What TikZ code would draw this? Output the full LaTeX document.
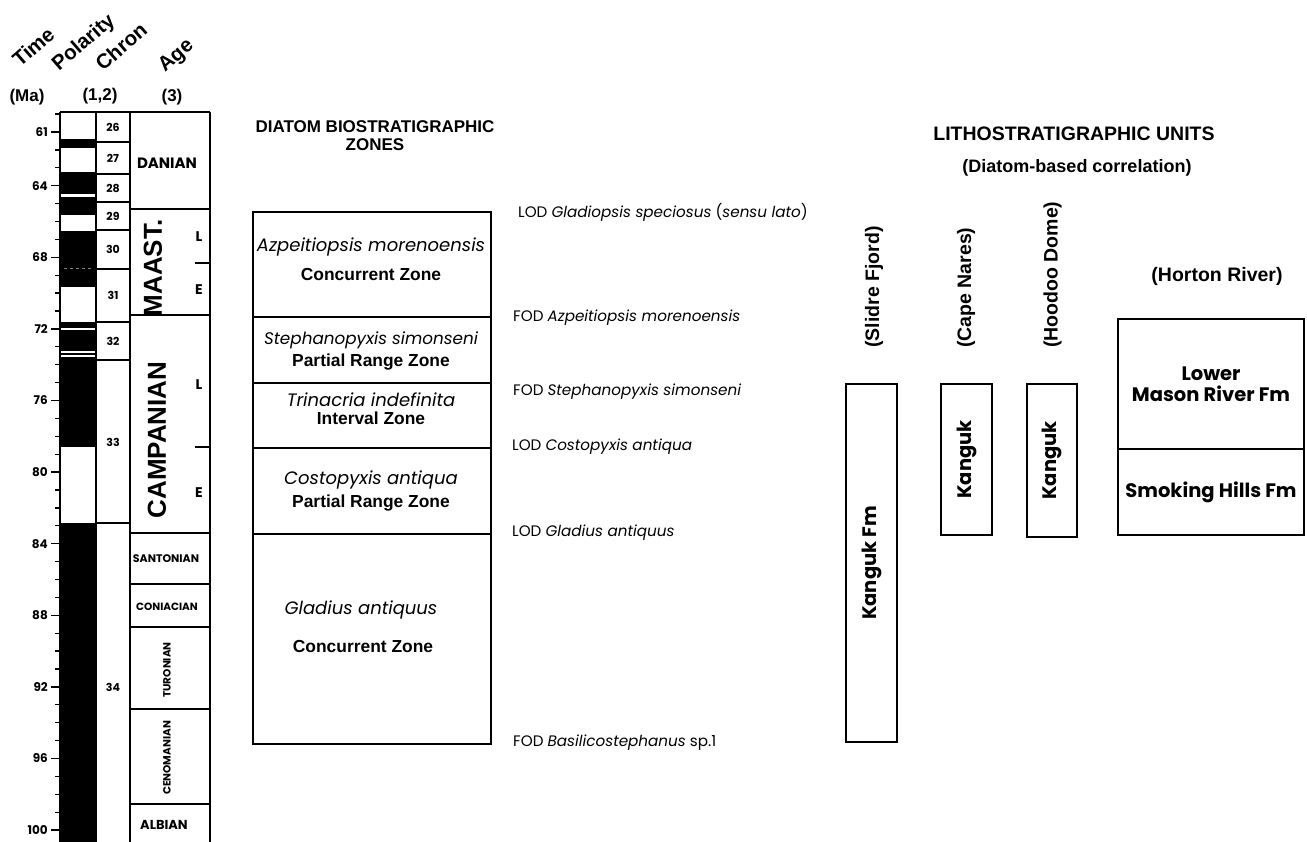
\documentclass[tikz,border=0pt]{standalone}
\usepackage{fontspec}
\setmainfont{Liberation Sans}
\newfontfamily\gothic{Poppins}
\usetikzlibrary{positioning}
\newcommand{\fsz}[1]{\fontsize{#1}{#1}\selectfont}
\tikzset{
    colHead/.style={font=\bfseries\fsz{20.5}, rotate=41, anchor=base west, inner sep=0pt},
    subHead/.style={font=\bfseries\fsz{17}, inner sep=0pt},
    tickNum/.style={font=\gothic\bfseries\fsz{12}, anchor=east, inner sep=0pt},
    chronNum/.style={font=\gothic\bfseries\fsz{11}, inner sep=0pt},
    stageName/.style={font=\gothic\bfseries\fsz{#1}, inner sep=0pt},
    bigStage/.style={font=\bfseries\fsz{26}, rotate=90, inner sep=0pt},
    colLine/.style={line width=1.5pt},
    % zones
    zoneBox/.style={draw, line width=1.6pt, anchor=north west, minimum width=238pt, inner sep=0pt},
    spName/.style={font=\gothic\itshape\fsz{18}, inner sep=0pt},
    zoneName/.style={font=\bfseries\fsz{17.4}, inner sep=0pt},
    eventLbl/.style={font=\gothic\fsz{15.2}, anchor=west, inner sep=0pt},
    % lithology
    siteLbl/.style={font=\bfseries\fsz{19.5}, rotate=90, anchor=west, inner sep=0pt},
    unitBox/.style={draw, line width=1.6pt, font=\gothic\bfseries\fsz{19.5}, inner sep=0pt, align=center}
}

\begin{document}
\begin{tikzpicture}[x=1pt, y=-1pt]
\useasboundingbox (0,0) rectangle (1307,842);

% column heads
\node[colHead] (hTime) at (20,68) {Time};
\node[colHead] (hPol) at (59,72) {Polarity};
\node[colHead] (hChron) at (103,72) {Chron};
\node[colHead] (hAge) at (165,73) {Age};
\node[subHead] (hMa) at (27,97) {(Ma)};
\node[subHead] (hRef) at (100,96) {(1,2)};
\node[subHead] (hRefAge) at (172,97) {(3)};

% polarity
\foreach \a/\b in {139/148, 172/194, 197/215, 231/287, 322/328, 330/351.5, 353.5/355.5, 357.5/447, 523/842}
    \fill (60,\a) rectangle (96,\b);
\draw[gray, dashed, line width=0.6pt] (64,268) -- (92,268);

% time scale
\foreach \t in {60,...,100}
    \draw[line width=1.3pt] (55,{132+17.9*(\t-61)}) -- (60,{132+17.9*(\t-61)});
\foreach \t in {61,64,68,72,76,80,84,88,92,96,100} {
    \draw[line width=1.3pt] (51,{132+17.9*(\t-61)}) -- (55,{132+17.9*(\t-61)});
    \node[tickNum] (t\t) at (48,{132+17.9*(\t-61)}) {\t};
}

% columns
\draw[colLine] (60,112) -- (210,112);
\foreach \x in {60,96,130,210}
    \draw[colLine] (\x,112) -- (\x,842);
\foreach \y in {142,174,202,230,269,322,360,523}
    \draw[colLine] (96,\y) -- (130,\y);
\foreach \y in {209,315,533,584,627,709,804}
    \draw[colLine] (130,\y) -- (210,\y);
\draw[colLine] (195,263) -- (210,263);
\draw[colLine] (195,447) -- (210,447);

% chrons
\foreach \n/\y in {26/127, 27/158, 28/188, 29/216, 30/249.5, 31/295.5, 32/341, 33/442, 34/687}
    \node[chronNum] (c\n) at (113,\y) {\n};

% stages
\node[stageName=15] (sDanian) at (167,163) {DANIAN};
\node[bigStage] (sMaast) at (153,268) {MAAST.};
\node[stageName=14] (sMaL) at (199,237) {L};
\node[stageName=14] (sMaE) at (199,290) {E};
\node[bigStage] (sCamp) at (157,440) {CAMPANIAN};
\node[stageName=14] (sCaL) at (199,385) {L};
\node[stageName=14] (sCaE) at (199,493) {E};
\node[stageName=11] (sSant) at (166,559) {SANTONIAN};
\node[stageName=10.5] (sCon) at (167,607) {CONIACIAN};
\node[stageName=10.5, rotate=90] (sTur) at (167,670) {TURONIAN};
\node[stageName=10.5, rotate=90] (sCen) at (167,758) {CENOMANIAN};
\node[stageName=13] (sAlb) at (164,825) {ALBIAN};

% diatom zones
\node[font=\bfseries\fsz{17}, align=center, anchor=north, inner sep=0pt] (dzTitle) at (375,120) {DIATOM BIOSTRATIGRAPHIC\\[1pt]ZONES};
\node[zoneBox, minimum height=105pt] (zAzp) at (252,211) {};
\node[zoneBox, minimum height=66pt] (zSte) at (252,316) {};
\node[zoneBox, minimum height=65pt] (zTri) at (252,382) {};
\node[zoneBox, minimum height=86pt] (zCos) at (252,447) {};
\node[zoneBox, minimum height=210pt] (zGla) at (252,533) {};

\node[spName] (nAzp) at (371,247) {Azpeitiopsis morenoensis};
\node[zoneName] (kAzp) at (371,275) {Concurrent Zone};
\node[spName, font=\gothic\itshape\fsz{16.8}] (nSte) at (371,340) {Stephanopyxis simonseni};
\node[zoneName] (kSte) at (371,362) {Partial Range Zone};
\node[spName] (nTri) at (371,400) {Trinacria indefinita};
\node[zoneName] (kTri) at (371,418) {Interval Zone};
\node[spName] (nCos) at (371,480) {Costopyxis antiqua};
\node[zoneName] (kCos) at (371,503) {Partial Range Zone};
\node[spName] (nGla) at (361,610) {Gladius antiquus};
\node[zoneName] (kGla) at (363,647) {Concurrent Zone};

% datums
\node[eventLbl] (e1) at (518,212) {LOD \textit{Gladiopsis speciosus} (\textit{sensu lato})};
\node[eventLbl] (e2) at (513,318) {FOD \textit{Azpeitiopsis morenoensis}};
\node[eventLbl] (e3) at (513,392) {FOD \textit{Stephanopyxis simonseni}};
\node[eventLbl] (e4) at (512,447) {LOD \textit{Costopyxis antiqua}};
\node[eventLbl] (e5) at (512,533) {LOD \textit{Gladius antiquus}};
\node[eventLbl] (e6) at (513,743) {FOD \textit{Basilicostephanus} sp.1};

% lithostratigraphic units
\node[font=\bfseries\fsz{19.5}, inner sep=0pt] (luTitle) at (1074,134) {LITHOSTRATIGRAPHIC UNITS};
\node[font=\bfseries\fsz{18}, inner sep=0pt] (luSub) at (1077,168) {(Diatom-based correlation)};
\node[siteLbl] (siteSF) at (874,348) {(Slidre Fjord)};
\node[siteLbl] (siteCN) at (966,348) {(Cape Nares)};
\node[siteLbl] (siteHD) at (1052.5,348) {(Hoodoo Dome)};
\node[font=\bfseries\fsz{19.5}, inner sep=0pt] (siteHR) at (1217,276) {(Horton River)};

\node[unitBox, rotate=90, minimum width=358pt, minimum height=51pt] (uSF) at (871.5,563) {Kanguk Fm};
\node[unitBox, rotate=90, minimum width=151pt, minimum height=51pt] (uCN) at (966.5,459.5) {Kanguk};
\node[unitBox, rotate=90, minimum width=153pt, minimum height=50pt] (uHD) at (1052,460.5) {Kanguk};
\node[unitBox, minimum width=186pt, minimum height=130pt] (uMR) at (1211,384) {Lower\\[1pt]Mason River Fm};
\node[unitBox, minimum width=186pt, minimum height=86pt] (uSH) at (1211,492) {Smoking Hills Fm};
\end{tikzpicture}
\end{document}
